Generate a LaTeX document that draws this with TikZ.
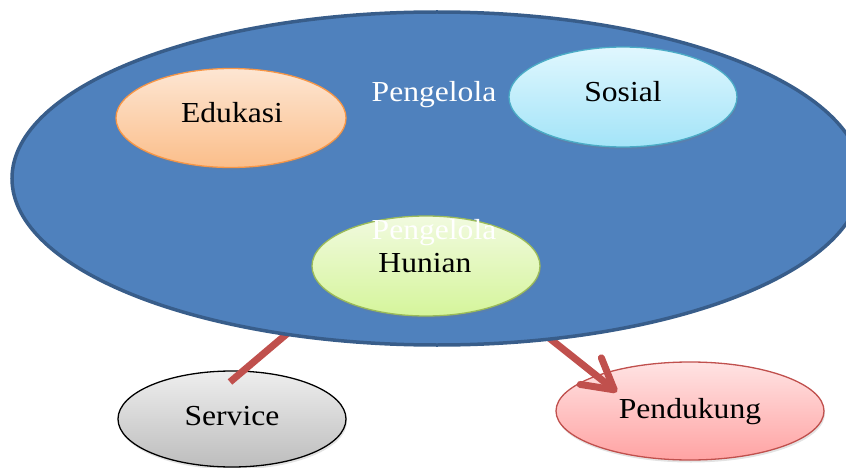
\documentclass[tikz,border=0pt]{standalone}
\usepackage{fontspec}
\setmainfont[FakeStretch=1.09]{Liberation Serif}
\usetikzlibrary{shapes.geometric,arrows.meta,shadows}

\definecolor{hubBlue}{HTML}{4F81BD}
\definecolor{hubEdge}{HTML}{385D8A}
\definecolor{eduTop}{HTML}{FDE6D3}
\definecolor{eduBot}{HTML}{FBBE8A}
\definecolor{eduEdge}{HTML}{F79646}
\definecolor{sosTop}{HTML}{E0F7FE}
\definecolor{sosBot}{HTML}{A3E4F8}
\definecolor{sosEdge}{HTML}{4BACC6}
\definecolor{hunTop}{HTML}{F1FADF}
\definecolor{hunBot}{HTML}{D5F59B}
\definecolor{hunEdge}{HTML}{9BBB59}
\definecolor{svcTop}{HTML}{EEEEEE}
\definecolor{svcBot}{HTML}{BDBDBD}
\definecolor{penTop}{HTML}{FFE3E3}
\definecolor{penBot}{HTML}{FFA3A3}
\definecolor{penEdge}{HTML}{C0504D}
\definecolor{linkred}{HTML}{C0504D}

\pgfdeclarelayer{lower}
\pgfdeclarelayer{links}
\pgfsetlayers{lower,links,main}

\begin{document}
\begin{tikzpicture}[x=1pt,y=-1pt,
  bubble/.style={ellipse, inner sep=0pt, line width=1.3pt,
    drop shadow={opacity=0.22, shadow xshift=1pt, shadow yshift=-2.5pt}},
  lbl/.style={anchor=base, inner sep=0pt, font=\fontsize{29}{34}\selectfont},
  link/.style={draw=linkred, line width=7pt}]

\useasboundingbox (0,0) rectangle (846,468);

% outer circles below the connectors
\begin{pgfonlayer}{lower}
  \node[bubble, draw=black, top color=svcTop, bottom color=svcBot,
        minimum width=228pt, minimum height=96pt] (service) at (232,419) {};
  \node[bubble, draw=penEdge, top color=penTop, bottom color=penBot,
        minimum width=268pt, minimum height=98pt] (pend) at (690,411) {};
\end{pgfonlayer}

% big ellipse
\node[ellipse, inner sep=0pt, fill=hubBlue, draw=hubEdge, line width=3.5pt,
      minimum width=850pt, minimum height=333pt] (hub) at (437,178.5) {};

% connectors, partly hidden under the big ellipse
\begin{pgfonlayer}{links}
  \draw[link] ([shift={(-132,140)}]hub.center) -- ([shift={(-2,-37)}]service.center);
  \draw[link, -{Straight Barb[length=30pt,width=34pt,round]}]
    ([shift={(99,149)}]hub.center) -- ([shift={(-73,-19)}]pend.center);
\end{pgfonlayer}

% inner circles
\node[bubble, draw=eduEdge, top color=eduTop, bottom color=eduBot,
      minimum width=230pt, minimum height=99pt] (edukasi) at (231,118) {};
\node[bubble, draw=sosEdge, top color=sosTop, bottom color=sosBot,
      minimum width=228pt, minimum height=100pt] (sosial) at (623,97) {};
\node[bubble, draw=hunEdge, top color=hunTop, bottom color=hunBot,
      minimum width=228pt, minimum height=100pt] (hunian) at (426,266) {};

% texts
\node[lbl, text=white] (t1) at (434,102) {Pengelola};
\node[lbl] (t2) at (232,123) {Edukasi};
\node[lbl] (t3) at (623,102) {Sosial};
\node[lbl, text=white] (t4) at (434,239) {Pengelola};
\node[lbl] (t5) at (425,272) {Hunian};
\node[lbl] (t6) at (232,425) {Service};
\node[lbl] (t7) at (690,418) {Pendukung};
\end{tikzpicture}
\end{document}
